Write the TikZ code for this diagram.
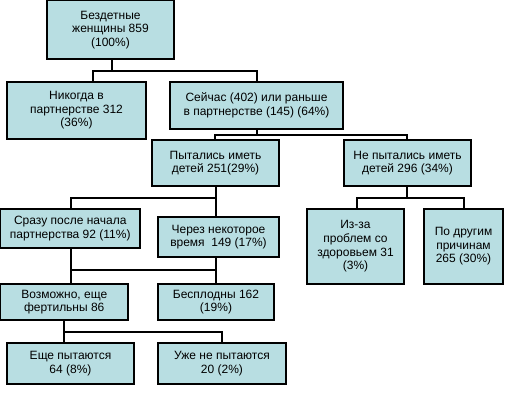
\documentclass[tikz,border=0pt]{standalone}
\usepackage{fontspec}
\setmainfont{Liberation Sans}
\definecolor{boxfill}{RGB}{184,222,226}
\tikzset{
  box/.style 2 args={draw=black, line width=0.8pt, fill=boxfill, inner sep=0pt, align=center,
    minimum width=#1*0.75pt, minimum height=#2*0.75pt,
    font=\fontsize{9pt}{10.2pt}\selectfont},
  link/.style={draw=black, line width=0.8pt}
}
\begin{document}
\begin{tikzpicture}[x=0.75pt,y=-0.75pt]
\useasboundingbox (0,0) rectangle (507,403);
\node[box={127}{58.5}] (r) at (110.5,29.75) {Бездетные\\женщины 859\\(100\%)};
\node[box={139}{57}] (n) at (76.5,110.5) {Никогда в\\партнерстве 312\\(36\%)};
\node[box={173}{47}] (s) at (256.5,105.5) {Сейчас (402) или раньше\\в партнерстве (145) (64\%)};
\node[box={127}{46}] (p) at (215.5,163) {Пытались иметь\\детей 251(29\%)};
\node[box={127}{46}] (np) at (407.5,163) {Не пытались иметь\\детей 296 (34\%)};
\node[box={139.5}{39}] (sr) at (70.25,228.5) {Сразу после начала\\партнерства 92 (11\%)};
\node[box={121}{40}] (ch) at (218.5,237) {Через некоторое\\время~ 149 (17\%)};
\node[box={97}{75}] (iz) at (355.5,246.5) {Из-за\\проблем со\\здоровьем 31\\(3\%)};
\node[box={79}{75}] (pd) at (463.5,246.5) {По другим\\причинам\\265 (30\%)};
\node[box={127.5}{36}] (vz) at (64.25,302) {Возможно, еще\\фертильны 86};
\node[box={116}{36}] (bs) at (216,302) {Бесплодны 162\\(19\%)};
\node[box={127}{41}] (es) at (70.5,363.5) {Еще пытаются\\64 (8\%)};
\node[box={128}{41}] (uz) at (222,363.5) {Уже не пытаются\\20 (2\%)};
\coordinate (a1) at (112,71); \coordinate (a2) at (93,71); \coordinate (a3) at (257,71);
\coordinate (b1) at (257,135); \coordinate (b2) at (215,135); \coordinate (b3) at (407,135);
\coordinate (c1) at (216,198); \coordinate (c2) at (71,198);
\coordinate (d1) at (407,198); \coordinate (d2) at (357,198); \coordinate (d3) at (464,198);
\coordinate (e1) at (71,270); \coordinate (e2) at (216,270);
\coordinate (f1) at (64,332); \coordinate (f2) at (222,332);
\draw[link] (a1 |- r.south) -- (a1);
\draw[link] (a2 |- n.north) -- (a2) -- (a3) -- (a3 |- s.north);
\draw[link] (b1 |- s.south) -- (b1);
\draw[link] (b2 |- p.north) -- (b2) -- (b3) -- (b3 |- np.north);
\draw[link] (c1 |- p.south) -- (c1 |- ch.north);
\draw[link] (c1) -- (c2) -- (c2 |- sr.north);
\draw[link] (d1 |- np.south) -- (d1);
\draw[link] (d2 |- iz.north) -- (d2) -- (d3) -- (d3 |- pd.north);
\draw[link] (e1 |- sr.south) -- (e1 |- vz.north);
\draw[link] (e1) -- (e2);
\draw[link] (e2 |- ch.south) -- (e2 |- bs.north);
\draw[link] (f1 |- vz.south) -- (f1 |- es.north);
\draw[link] (f1) -- (f2) -- (f2 |- uz.north);
\end{tikzpicture}
\end{document}
